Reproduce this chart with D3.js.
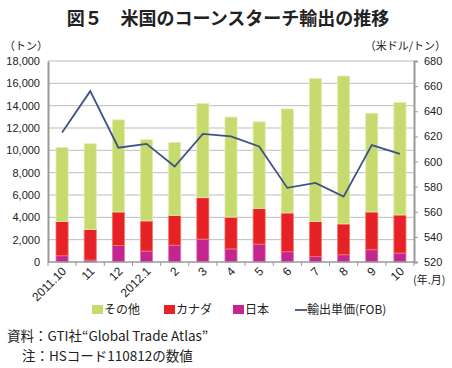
<!DOCTYPE html>
<html>
<head>
<meta charset="utf-8">
<script src="https://cdn.jsdelivr.net/npm/d3@7"></script>
<style>
  body { margin: 0; background: #fff; }
  text { font-family: "Noto Sans CJK JP", "Noto Sans", sans-serif; fill: #222; }
</style>
</head>
<body>
<svg width="452" height="368"></svg>
<script>
// months (年.月)
const months = ['2011.10', '11', '12', '2012.1', '2', '3', '4', '5', '6', '7', '8', '9', '10'];
// トン
const japan  = [560, 180, 1480, 980, 1510, 2050, 1170, 1600, 920, 480, 650, 1100, 800];
const canada = [3060, 2730, 3000, 2700, 2670, 3710, 2850, 3180, 3470, 3140, 2760, 3380, 3410];
const other  = [6640, 7680, 8250, 7270, 6530, 8430, 8960, 7770, 9320, 12820, 13240, 8840, 10060];
// 米ドル/トン
const price  = [623, 656, 611, 614, 596, 622, 620, 612, 579, 583, 572, 613, 606];

const leftTicks = d3.range(0, 18001, 2000);
const rightTicks = d3.range(520, 681, 20);

const svg = d3.select('svg');
const plotL = 48, plotR = 414, plotT = 61, plotB = 262;

const x = d3.scaleBand().domain(months).range([plotL, plotR]).paddingInner(0.57).paddingOuter(0.285);
const y = d3.scaleLinear().domain([0, 18000]).range([plotB, plotT]);
const y2 = d3.scaleLinear().domain([520, 680]).range([plotB, plotT]);

// title
svg.append('text')
    .attr('x', 228).attr('y', 25)
    .attr('text-anchor', 'middle')
    .attr('font-size', 18).attr('font-weight', 'bold')
    .text('図５　米国のコーンスターチ輸出の推移');

svg.append('text').attr('x', 4).attr('y', 50).attr('font-size', 11).text('（トン）');
svg.append('text').attr('x', 446).attr('y', 50).attr('font-size', 11)
    .attr('text-anchor', 'end').text('（米ドル/トン）');

// gridlines
svg.append('g').selectAll('line')
    .data(leftTicks.slice(1))
    .enter().append('line')
    .attr('x1', plotL).attr('x2', plotR)
    .attr('y1', d => y(d)).attr('y2', d => y(d))
    .attr('stroke', '#bdbdbd').attr('stroke-width', 1);

// left axis
const gl = svg.append('g').attr('transform', 'translate(' + plotL + ',0)')
    .call(d3.axisLeft(y).tickValues(leftTicks).tickSize(0).tickPadding(8).tickFormat(d3.format(',')));
gl.select('.domain').attr('stroke', '#999').attr('stroke-width', 2);
gl.selectAll('text').attr('font-size', 11).style('font-family', 'Arial, "Liberation Sans", sans-serif');

// right axis
const gr = svg.append('g').attr('transform', 'translate(' + plotR + ',0)')
    .call(d3.axisRight(y2).tickValues(rightTicks).tickSize(4).tickPadding(6));
gr.select('.domain').attr('stroke', '#999').attr('stroke-width', 2);
gr.selectAll('.tick line').attr('stroke', '#999');
gr.selectAll('text').attr('font-size', 11).style('font-family', 'Arial, "Liberation Sans", sans-serif');

// stacked bars
const rows = months.map((m, i) => ({ month: m, japan: japan[i], canada: canada[i], other: other[i] }));
const keys = ['japan', 'canada', 'other'];
const color = { japan: '#c5258f', canada: '#e62227', other: '#c6da6e' };
const edge = { japan: '#dc7ab6', canada: '#f07a62', other: '#e2edb0' };
const stack = d3.stack().keys(keys)(rows);

svg.append('g').selectAll('g')
    .data(stack)
    .enter().append('g')
    .attr('fill', d => color[d.key])
    .attr('stroke', d => edge[d.key])
    .attr('stroke-width', 0.8)
    .selectAll('rect')
    .data(d => d)
    .enter().append('rect')
    .attr('x', d => x(d.data.month))
    .attr('y', d => y(d[1]))
    .attr('width', x.bandwidth())
    .attr('height', d => y(d[0]) - y(d[1]));

// bottom axis
const step = x.step();
svg.append('line').attr('x1', plotL).attr('x2', plotR).attr('y1', plotB).attr('y2', plotB)
    .attr('stroke', '#999').attr('stroke-width', 1.5);
svg.append('g').selectAll('line')
    .data(d3.range(months.length + 1))
    .enter().append('line')
    .attr('x1', i => plotL + i * step).attr('x2', i => plotL + i * step)
    .attr('y1', plotB).attr('y2', plotB + 4)
    .attr('stroke', '#999');

svg.append('g').selectAll('text')
    .data(months)
    .enter().append('text')
    .attr('text-anchor', 'end')
    .attr('font-size', 12)
    .style('font-family', 'Arial, "Liberation Sans", sans-serif')
    .attr('transform', d => 'translate(' + (x(d) + x.bandwidth() / 2 + 5) + ',' + (plotB + 10) + ') rotate(-45)')
    .text(d => d);

svg.append('text').attr('x', 413).attr('y', 284).attr('font-size', 11).text('(年.月)');

// price line
svg.append('path')
    .datum(price)
    .attr('fill', 'none')
    .attr('stroke', '#3d5287')
    .attr('stroke-width', 1.8)
    .attr('d', d3.line().x((d, i) => x(months[i]) + x.bandwidth() / 2).y(d => y2(d)));

// legend
const legend = [
    { label: 'その他', x: 92, c: color.other },
    { label: 'カナダ', x: 164, c: color.canada },
    { label: '日本', x: 233, c: color.japan }
];
legend.forEach(l => {
    svg.append('rect').attr('x', l.x).attr('y', 305).attr('width', 11).attr('height', 9).attr('fill', l.c);
    svg.append('text').attr('x', l.x + 12).attr('y', 314).attr('font-size', 12).text(l.label);
});
svg.append('line').attr('x1', 295).attr('x2', 307).attr('y1', 310).attr('y2', 310)
    .attr('stroke', '#3d5287').attr('stroke-width', 1.8);
svg.append('text').attr('x', 307).attr('y', 314).attr('font-size', 12).text('輸出単価(FOB)');

// notes
svg.append('text').attr('x', 7).attr('y', 341).attr('font-size', 13.5).text('資料：GTI社“Global Trade Atlas”');
svg.append('text').attr('x', 22).attr('y', 361).attr('font-size', 13.5).text('注：HSコード110812の数値');
</script>
</body>
</html>
